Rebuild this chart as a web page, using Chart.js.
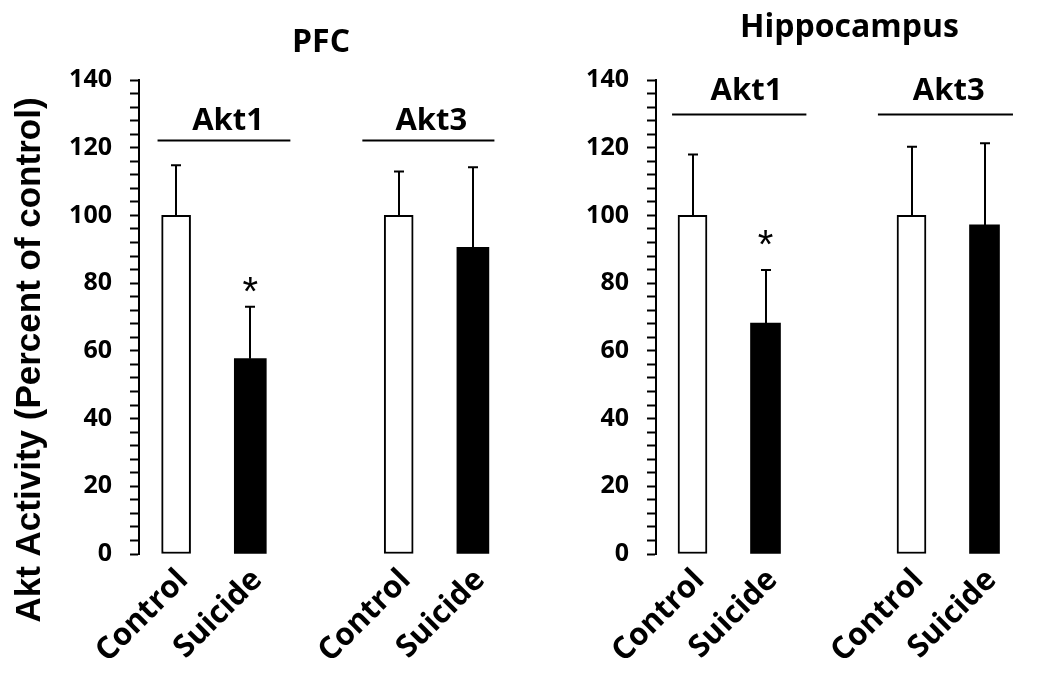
<!DOCTYPE html>
<html>
<head>
<meta charset="utf-8">
<script src="https://cdn.jsdelivr.net/npm/chart.js@4/dist/chart.umd.min.js"></script>
<style>
  html, body { margin: 0; padding: 0; background: #fff; }
  #wrap { position: relative; width: 1050px; height: 679px; }
  canvas { position: absolute; top: 0; }
  #pfc { left: 0; }
  #hip { left: 525px; }
</style>
</head>
<body>
<div id="wrap">
  <canvas id="pfc" width="525" height="679"></canvas>
  <canvas id="hip" width="525" height="679"></canvas>
</div>
<script>
// values (percent of control)
const categories = ['Control', 'Suicide', '', 'Control', 'Suicide'];
const yTicks = [0, 20, 40, 60, 80, 100, 120, 140];
const groupNames = ['Akt1', 'Akt3'];

const pfcMean = [100, 57.7, null, 100, 90.6];
const pfcSem = [14.8, 15.3, null, 13.0, 23.6];
const pfcStars = [null, '*', null, null, null];

const hipMean = [100, 68.2, null, 100, 97.2];
const hipSem = [18.0, 15.7, null, 20.3, 24.1];
const hipStars = [null, '*', null, null, null];

const font = s => 'bold ' + s + 'px "Open Sans", sans-serif';

function annot(o) {
  return {
    id: 'annot',
    afterDatasetsDraw(chart) {
      const { ctx, scales: { x, y } } = chart;
      ctx.save();
      ctx.strokeStyle = '#000';
      ctx.fillStyle = '#000';
      ctx.lineWidth = 2;

      // error bars (upper only)
      o.mean.forEach((m, i) => {
        if (m == null) return;
        const px = Math.round(x.getPixelForValue(i));
        const y0 = y.getPixelForValue(m);
        const y1 = y.getPixelForValue(m + o.sem[i]);
        ctx.beginPath();
        ctx.moveTo(px, y0);
        ctx.lineTo(px, y1);
        ctx.moveTo(px - 5, y1);
        ctx.lineTo(px + 5, y1);
        ctx.stroke();
      });

      // significance marks
      ctx.font = '40px "Liberation Sans", sans-serif';
      ctx.textAlign = 'center';
      o.stars.forEach((s, i) => {
        if (!s) return;
        const mt = ctx.measureText(s);
        const cy = y.getPixelForValue(o.starAt);
        ctx.textBaseline = 'alphabetic';
        ctx.fillText(s, x.getPixelForValue(i), cy + (mt.actualBoundingBoxAscent - mt.actualBoundingBoxDescent) / 2);
      });

      // isoform group labels with bars
      ctx.font = font(31);
      ctx.textBaseline = 'alphabetic';
      groupNames.forEach((g, gi) => {
        const sp = o.groupSpan[gi];
        const ly = Math.round(y.getPixelForValue(o.lineAt)) + 0.5;
        ctx.beginPath();
        ctx.moveTo(x.getPixelForValue(sp[0]), ly);
        ctx.lineTo(x.getPixelForValue(sp[1]), ly);
        ctx.stroke();
        ctx.fillText(g, x.getPixelForValue(o.labelAt[gi]), y.getPixelForValue(o.textAt));
      });

      // panel title
      ctx.font = font(32);
      ctx.fillText(o.title, o.titleX, o.titleY);

      // y axis title (left panel only)
      if (o.yTitle) {
        ctx.translate(30, 360);
        ctx.rotate(-Math.PI / 2);
        ctx.font = 'bold 35px "Liberation Sans", Arial, sans-serif';
        ctx.textBaseline = 'middle';
        ctx.fillText(o.yTitle, 0, 0);
      }
      ctx.restore();
    }
  };
}

function makeChart(id, o) {
  const control = o.mean.map((v, i) => categories[i] === 'Control' ? v : null);
  const suicide = o.mean.map((v, i) => categories[i] === 'Suicide' ? v : null);
  return new Chart(document.getElementById(id), {
    type: 'bar',
    data: {
      labels: categories,
      datasets: [
        { label: 'Control', data: control, backgroundColor: '#fff', borderColor: '#000',
          borderWidth: 2, borderSkipped: false, barThickness: o.ctrlW, grouped: false },
        { label: 'Suicide', data: suicide, backgroundColor: '#000', borderColor: '#000',
          borderWidth: 0, barThickness: o.suiW, grouped: false },
      ],
    },
    options: {
      responsive: false,
      animation: false,
      layout: { padding: { top: 80, right: o.padRight, left: 0, bottom: 0 } },
      plugins: { legend: { display: false }, tooltip: { enabled: false } },
      scales: {
        x: {
          grid: { display: false },
          border: { display: false },
          ticks: {
            color: '#000', font: { family: 'Open Sans', weight: 'bold', size: 31 },
            minRotation: 45, maxRotation: 45, autoSkip: false, padding: 0, labelOffset: 7,
          },
          afterFit: s => { s.height = 125; },
        },
        y: {
          min: 0, max: 140,
          grid: { drawOnChartArea: false, drawTicks: true, tickLength: 9, tickColor: '#000', tickWidth: 2 },
          border: { color: '#000', width: 2 },
          ticks: {
            stepSize: 4, autoSkip: false, color: '#000', padding: 18,
            font: { family: 'Open Sans', weight: 'bold', size: 25 },
            callback: v => yTicks.includes(v) ? v : '',
          },
          afterFit: s => { s.width = o.axisW; },
        },
      },
    },
    plugins: [annot(o)],
  });
}

makeChart('pfc', {
  mean: pfcMean, sem: pfcSem, stars: pfcStars, starAt: 79.5,
  title: 'PFC', titleX: 321, titleY: 52,
  yTitle: 'Akt Activity (Percent of control)',
  groupSpan: [[-0.25, 1.54], [2.51, 4.29]], labelAt: [0.70, 3.44], lineAt: 122.4, textAt: 125.3,
  ctrlW: 29, suiW: 32, axisW: 139, padRight: 15,
});

makeChart('hip', {
  mean: hipMean, sem: hipSem, stars: hipStars, starAt: 93.4,
  title: 'Hippocampus', titleX: 324.5, titleY: 37,
  yTitle: null,
  groupSpan: [[-0.28, 1.56], [2.54, 4.39]], labelAt: [0.74, 3.51], lineAt: 130, textAt: 134.2,
  ctrlW: 29, suiW: 30, axisW: 131, padRight: 29,
});
</script>
</body>
</html>
